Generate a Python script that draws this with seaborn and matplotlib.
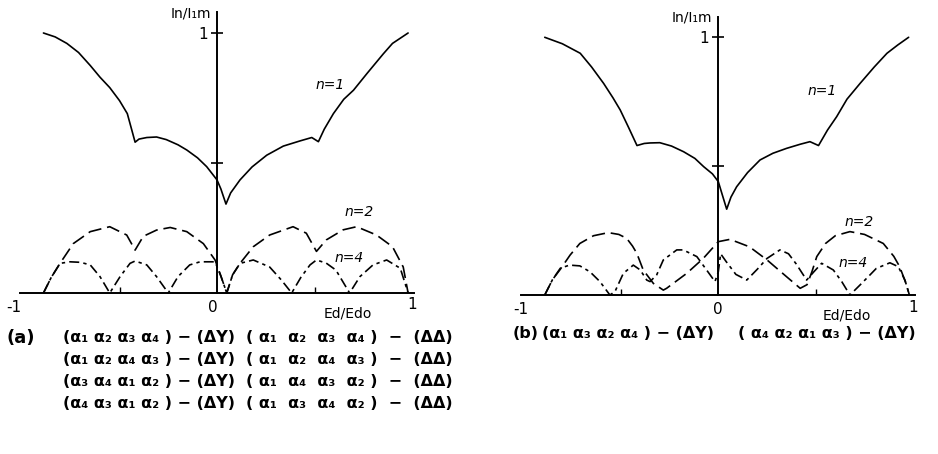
import matplotlib
matplotlib.use("Agg")
import matplotlib.pyplot as plt
import seaborn as sns

sns.set_theme(style="white")
plt.rcParams["font.family"] = ["DejaVu Sans"]
plt.rcParams["text.color"] = "black"
plt.rcParams["xtick.color"] = "black"
plt.rcParams["ytick.color"] = "black"

# ---- panel (a): relative current In/I1m versus Ed/Edo ----
xa_n1 = [-0.89, -0.83, -0.77, -0.71, -0.65, -0.60, -0.55, -0.50, -0.46, -0.437, -0.42,
         -0.40, -0.36, -0.31, -0.26, -0.20, -0.155, -0.10, -0.053, 0.0, 0.02, 0.046,
         0.07, 0.118, 0.18, 0.255, 0.34, 0.426, 0.486, 0.52, 0.55, 0.597, 0.65, 0.70,
         0.77, 0.853, 0.90, 0.98]
ya_n1 = [1.00, 0.985, 0.96, 0.925, 0.875, 0.83, 0.79, 0.74, 0.69, 0.627, 0.58,
         0.592, 0.598, 0.60, 0.59, 0.57, 0.55, 0.52, 0.486, 0.435, 0.40, 0.342,
         0.385, 0.435, 0.485, 0.53, 0.565, 0.585, 0.598, 0.582, 0.63, 0.69, 0.745, 0.78,
         0.845, 0.92, 0.96, 1.00]

xa_n2 = [-0.89, -0.85, -0.805, -0.737, -0.65, -0.55, -0.463, -0.42, -0.378, -0.31,
         -0.24, -0.155, -0.07, -0.01, 0.02, 0.05, 0.08, 0.118, 0.186, 0.27, 0.39,
         0.458, 0.51, 0.56, 0.647, 0.716, 0.818, 0.90, 0.955, 0.98]
ya_n2 = [0.0, 0.06, 0.114, 0.19, 0.236, 0.255, 0.223, 0.165, 0.218, 0.242,
         0.252, 0.236, 0.19, 0.127, 0.065, 0.0, 0.07, 0.114, 0.178, 0.223, 0.255,
         0.23, 0.16, 0.204, 0.243, 0.255, 0.223, 0.178, 0.10, 0.0]

xa_n4 = [-0.89, -0.85, -0.805, -0.754, -0.70, -0.65, -0.60, -0.55, -0.497, -0.446,
         -0.42, -0.36, -0.31, -0.25, -0.20, -0.14, -0.087, -0.01, 0.02, 0.05,
         0.08, 0.118, 0.186, 0.27, 0.33, 0.383, 0.43, 0.477, 0.51, 0.56, 0.61,
         0.68, 0.733, 0.80, 0.87, 0.94, 0.98]
ya_n4 = [0.0, 0.06, 0.114, 0.12, 0.118, 0.108, 0.063, 0.0, 0.063, 0.114,
         0.123, 0.108, 0.063, 0.0, 0.063, 0.108, 0.12, 0.12, 0.065, 0.0,
         0.07, 0.114, 0.127, 0.10, 0.05, 0.0, 0.06, 0.108, 0.127, 0.115, 0.088,
         0.0, 0.063, 0.108, 0.127, 0.095, 0.0]

# ---- panel (b) ----
xb_n1 = [-0.89, -0.80, -0.708, -0.65, -0.588, -0.54, -0.503, -0.46, -0.417,
         -0.38, -0.35, -0.30, -0.24, -0.178, -0.12, -0.075, -0.03, 0.0, 0.02, 0.043,
         0.065, 0.094, 0.15, 0.214, 0.28, 0.35, 0.42, 0.47, 0.514,
         0.56, 0.607, 0.66, 0.727, 0.80, 0.865, 0.92, 0.976]
yb_n1 = [1.00, 0.975, 0.938, 0.885, 0.821, 0.765, 0.718, 0.65, 0.58,
         0.588, 0.59, 0.591, 0.578, 0.556, 0.53, 0.498, 0.47, 0.44, 0.39, 0.333,
         0.38, 0.42, 0.475, 0.524, 0.55, 0.569, 0.585, 0.595, 0.58,
         0.64, 0.692, 0.76, 0.821, 0.885, 0.938, 0.97, 1.00]

xb_n2 = [-0.89, -0.85, -0.81, -0.76, -0.71, -0.64, -0.564, -0.51, -0.47, -0.44,
         -0.418, -0.385, -0.333, -0.282, -0.265, -0.162, -0.077, 0.0, 0.06, 0.16,
         0.25, 0.35, 0.42, 0.455, 0.48, 0.505, 0.55, 0.60, 0.675, 0.75, 0.846,
         0.90, 0.93, 0.96, 0.98]
yb_n2 = [0.0, 0.06, 0.10, 0.155, 0.20, 0.23, 0.242, 0.235, 0.22, 0.19,
         0.162, 0.097, 0.045, 0.019, 0.026, 0.084, 0.142, 0.207, 0.216, 0.187,
         0.136, 0.071, 0.026, 0.04, 0.09, 0.149, 0.20, 0.23, 0.246, 0.235, 0.20,
         0.15, 0.11, 0.05, 0.0]

xb_n4 = [-0.89, -0.85, -0.81, -0.763, -0.71, -0.658, -0.607, -0.556, -0.53, -0.487,
         -0.436, -0.40, -0.367, -0.35, -0.316, -0.282, -0.213, -0.18, -0.11, -0.06,
         -0.017, 0.0, 0.012, 0.04, 0.09, 0.146, 0.20, 0.25, 0.316, 0.36, 0.40,
         0.453, 0.49, 0.53, 0.59, 0.633, 0.675, 0.727, 0.778, 0.81, 0.88, 0.923,
         0.957, 0.98]
yb_n4 = [0.0, 0.06, 0.104, 0.116, 0.113, 0.09, 0.052, 0.0, 0.013, 0.084,
         0.116, 0.097, 0.058, 0.052, 0.078, 0.136, 0.175, 0.175, 0.149, 0.097,
         0.052, 0.09, 0.16, 0.13, 0.08, 0.058, 0.10, 0.142, 0.175, 0.16, 0.12,
         0.058, 0.09, 0.123, 0.097, 0.052, 0.0, 0.039, 0.078, 0.103, 0.125, 0.11,
         0.058, 0.0]

curve_labels = ["n=1", "n=2", "n=4"]

caption_a_left = ["(α₁ α₂ α₃ α₄ ) − (ΔY)", "(α₁ α₂ α₄ α₃ ) − (ΔY)",
                  "(α₃ α₄ α₁ α₂ ) − (ΔY)", "(α₄ α₃ α₁ α₂ ) − (ΔY)"]
caption_a_right = ["( α₁  α₂  α₃  α₄ )  −  (ΔΔ)", "( α₁  α₂  α₄  α₃ )  −  (ΔΔ)",
                   "( α₁  α₄  α₃  α₂ )  −  (ΔΔ)", "( α₁  α₃  α₄  α₂ )  −  (ΔΔ)"]
caption_b = ["(α₁ α₃ α₂ α₄ ) − (ΔY)", "( α₄ α₂ α₁ α₃ ) − (ΔY)"]

W, H = 938, 454
fig = plt.figure(figsize=(W / 100, H / 100), dpi=100)
fig.patch.set_facecolor("white")


def px_axes(x0, y0, sx, sy):
    """Axes whose data origin sits at pixel (x0, y0) with sx/sy px per unit."""
    xl, xr, yb, yt = -1.1, 1.1, -0.1, 1.12
    left = x0 + xl * sx
    bottom = y0 - yb * sy
    ax = fig.add_axes([left / W, 1 - bottom / H, (xr - xl) * sx / W, (yt - yb) * sy / H])
    ax.set_xlim(xl, xr)
    ax.set_ylim(yb, yt)
    ax.set_facecolor("none")
    return ax


STYLE_N1 = "-"
STYLE_N2 = (0, (8, 3.5))
STYLE_N4 = (0, (6, 2.5, 2, 2.5))


def draw_panel(ax, curves, label_pos, xlab_pos, xtick_pos):
    for (xs, ys, ls) in curves:
        sns.lineplot(x=xs, y=ys, sort=False, estimator=None, color="black",
                     lw=1.2, linestyle=ls, ax=ax)
    for sp in ["top", "right"]:
        ax.spines[sp].set_visible(False)
    ax.spines["left"].set_position(("data", 0))
    ax.spines["bottom"].set_position(("data", 0))
    ax.spines["left"].set_bounds(0, 1.08)
    ax.spines["bottom"].set_bounds(-1.01, 1.01)
    for sp in ["left", "bottom"]:
        ax.spines[sp].set_color("black")
        ax.spines[sp].set_linewidth(1.4)
    ax.set_yticks([1.0])
    ax.set_yticklabels(["1"])
    ax.set_yticks([0.5], minor=True)
    ax.tick_params(axis="y", which="both", direction="inout", length=9, width=1.2,
                   color="black", left=True, labelsize=11, pad=2, labelcolor="black")
    ax.set_xticks([])
    ax.set_xticks([-0.5, 0.5], minor=True)
    ax.tick_params(axis="x", which="minor", direction="in", length=4, width=1.0,
                   color="black", bottom=True)
    ax.grid(False)
    ax.text(-0.03, 1.075, "In/I₁m", ha="right", va="center", fontsize=10, color="black")
    for txt, (tx, ty) in zip(["-1", "0", "1"], xtick_pos):
        ax.text(tx, ty, txt, ha="center", va="center", fontsize=11, color="black")
    ax.text(xlab_pos[0], xlab_pos[1], "Ed/Edo", ha="center", va="center",
            fontsize=10, color="black")
    for txt, (tx, ty) in zip(curve_labels, label_pos):
        ax.text(tx, ty, txt, ha="center", va="center", fontsize=10,
                fontstyle="italic", color="black")


ax_a = px_axes(217, 293, 195, 260)
draw_panel(ax_a,
           [(xa_n1, ya_n1, STYLE_N1), (xa_n2, ya_n2, STYLE_N2), (xa_n4, ya_n4, STYLE_N4)],
           label_pos=[(0.58, 0.80), (0.73, 0.31), (0.68, 0.135)],
           xlab_pos=(0.67, -0.08),
           xtick_pos=[(-1.04, -0.055), (-0.02, -0.055), (1.0, -0.045)])

ax_b = px_axes(718.3, 295, 195, 257.7)
draw_panel(ax_b,
           [(xb_n1, yb_n1, STYLE_N1), (xb_n2, yb_n2, STYLE_N2), (xb_n4, yb_n4, STYLE_N4)],
           label_pos=[(0.53, 0.79), (0.72, 0.285), (0.69, 0.125)],
           xlab_pos=(0.66, -0.08),
           xtick_pos=[(-1.015, -0.058), (0.0, -0.058), (1.0, -0.05)])

# ---- captions ----
def ftext(x, y, s, size=11.5, **kw):
    fig.text(x / W, 1 - y / H, s, va="center", fontsize=size, fontweight="bold",
             color="black", **kw)


ftext(7, 338, "(a)", size=13)
for i, (l, r) in enumerate(zip(caption_a_left, caption_a_right)):
    y = 338 + 22 * i
    ftext(63, y, l)
    ftext(246, y, r)

ftext(513, 334, "(b)")
ftext(542, 334, caption_b[0])
ftext(738, 334, caption_b[1])

fig.savefig("out.png", dpi=100, facecolor="white")
